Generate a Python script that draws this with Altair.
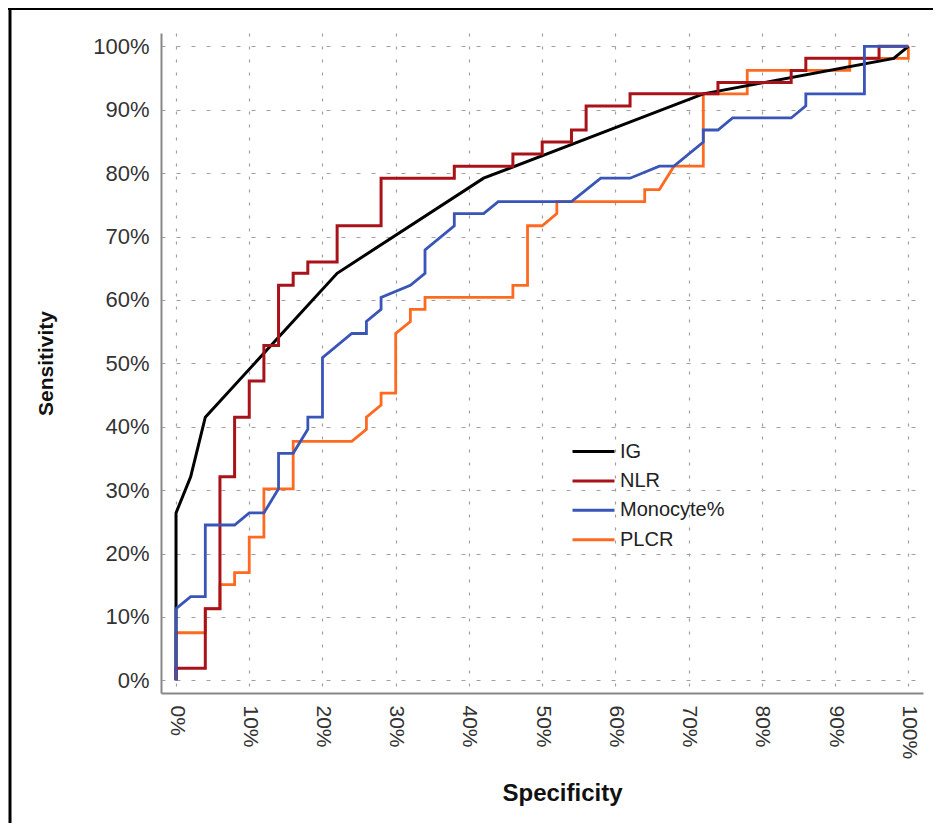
import altair as alt
import pandas as pd

# ROC curves (x = 1 - specificity in %, y = sensitivity in %)
SERIES = ["IG", "NLR", "Monocyte%", "PLCR"]
COLORS = ["#000000", "#a8131a", "#3955b8", "#ff6a21"]

IG_x = [0, 0, 2, 4, 22, 42, 72, 98, 100]
IG_y = [0, 26.4, 32.1, 41.5, 64.2, 79.2, 92.5, 98.1, 100]

NLR_x = [0, 0, 4, 4, 6, 6, 8, 8, 10, 10, 12, 12, 14, 14, 16, 16, 18, 18, 22, 22,
         28, 28, 38, 38, 46, 46, 50, 50, 54, 54, 56, 56, 62, 62, 74, 74, 84, 84, 86, 86,
         96, 96, 100]
NLR_y = [0, 1.9, 1.9, 11.3, 11.3, 32.1, 32.1, 41.5, 41.5, 47.2, 47.2, 52.8, 52.8, 62.3,
         62.3, 64.2, 64.2, 66.0, 66.0, 71.7, 71.7, 79.2, 79.2, 81.1, 81.1, 83.0, 83.0,
         84.9, 84.9, 86.8, 86.8, 90.6, 90.6, 92.5, 92.5, 94.3, 94.3, 96.2, 96.2, 98.1,
         98.1, 100, 100]

MONO_x = [0, 0, 2, 4, 4, 8, 10, 12, 14, 14, 16, 18, 18, 20, 20, 24, 26, 26, 28, 28,
          32, 34, 34, 38, 38, 42, 44, 54, 58, 62, 66, 68, 72, 72, 74, 76, 84, 86, 86, 94,
          94, 100]
MONO_y = [0, 11.3, 13.2, 13.2, 24.5, 24.5, 26.4, 26.4, 30.2, 35.8, 35.8, 39.6, 41.5,
          41.5, 50.9, 54.7, 54.7, 56.6, 58.5, 60.4, 62.3, 64.2, 67.9, 71.7, 73.6, 73.6,
          75.5, 75.5, 79.2, 79.2, 81.1, 81.1, 84.9, 86.8, 86.8, 88.7, 88.7, 90.6, 92.5,
          92.5, 100, 100]

PLCR_x = [0, 0, 4, 4, 6, 6, 8, 8, 10, 10, 12, 12, 16, 16, 24, 26, 26, 28, 28, 30,
          30, 32, 32, 34, 34, 46, 46, 48, 48, 50, 52, 52, 64, 64, 66, 68, 72, 72, 78, 78,
          92, 92, 100, 100]
PLCR_y = [0, 7.5, 7.5, 11.3, 11.3, 15.1, 15.1, 17.0, 17.0, 22.6, 22.6, 30.2, 30.2, 37.7,
          37.7, 39.6, 41.5, 43.4, 45.3, 45.3, 54.7, 56.6, 58.5, 58.5, 60.4, 60.4, 62.3,
          62.3, 71.7, 71.7, 73.6, 75.5, 75.5, 77.4, 77.4, 81.1, 81.1, 92.5, 92.5, 96.2,
          96.2, 98.1, 98.1, 100]

TICKS = [0, 10, 20, 30, 40, 50, 60, 70, 80, 90, 100]

rows = []
for name, xs, ys in [("IG", IG_x, IG_y), ("NLR", NLR_x, NLR_y),
                     ("Monocyte%", MONO_x, MONO_y), ("PLCR", PLCR_x, PLCR_y)]:
    for i, (a, b) in enumerate(zip(xs, ys)):
        rows.append({"series": name, "fpr": a, "tpr": b, "idx": i})
df = pd.DataFrame(rows)

FONT = "Liberation Sans"

x_enc = alt.X(
    "fpr:Q",
    scale=alt.Scale(domain=[-2.05, 102], nice=False, zero=False),
    axis=alt.Axis(
        values=TICKS, labelExpr="datum.value + '%'", labelAngle=90,
        labelFontSize=21, labelFont=FONT, labelColor="#333333", labelPadding=12,
        ticks=False, tickSize=0, domainColor="#888888", domainWidth=2,
        grid=True, gridColor="#a0a0a0", gridDash=[3, 10], gridWidth=1.2,
        title="Specificity", titleFont=FONT, titleFontSize=24, titleFontWeight="bold",
        titleColor="#111111", titleX=401, titleY=107, titleAlign="center",
        titleBaseline="alphabetic",
    ),
)
y_enc = alt.Y(
    "tpr:Q",
    scale=alt.Scale(domain=[-2.0, 102.1], nice=False, zero=False),
    axis=alt.Axis(
        values=TICKS, labelExpr="datum.value + '%'",
        labelFontSize=22, labelFont=FONT, labelColor="#333333", labelPadding=12,
        ticks=False, tickSize=0, domainColor="#888888", domainWidth=2,
        grid=True, gridColor="#a0a0a0", gridDash=[4, 11], gridWidth=1.2,
        title="Sensitivity", titleFont=FONT, titleFontSize=21, titleFontWeight="bold",
        titleColor="#111111", titleX=-115, titleY=330, titleAngle=270,
        titleAlign="center", titleBaseline="middle",
    ),
)
color_enc = alt.Color(
    "series:N",
    scale=alt.Scale(domain=SERIES, range=COLORS),
    legend=alt.Legend(
        title=None, orient="none", legendX=421, legendY=407, padding=0,
        symbolType="M-2.1,0H2.1", symbolSize=400, symbolStrokeWidth=3,
        labelFont=FONT, labelFontSize=20, labelColor="#222222", labelOffset=15,
        rowPadding=7.4,
    ),
)

base = alt.Chart(df)

def curve(name, width):
    return base.transform_filter(alt.datum.series == name).mark_line(
        strokeWidth=width, interpolate="linear"
    ).encode(x=x_enc, y=y_enc, color=color_enc, order=alt.Order("idx:Q"))

frame_df = pd.DataFrame({"k": [0]})
frame_v = alt.Chart(frame_df).mark_rule(color="black", strokeWidth=3).encode(
    x=alt.value(-151), y=alt.value(-30), y2=alt.value(800))
frame_h = alt.Chart(frame_df).mark_rule(color="black", strokeWidth=3).encode(
    x=alt.value(-153), x2=alt.value(790), y=alt.value(-24.5))

chart = alt.layer(
    curve("PLCR", 2.8),
    curve("IG", 3),
    curve("NLR", 3),
    curve("Monocyte%", 2.8),
    frame_v,
    frame_h,
).properties(
    width=762, height=660,
    autosize=alt.AutoSizeParams(type="none"),
    padding={"left": 153, "top": 25, "right": 10, "bottom": 130},
    background="white",
).configure_view(strokeWidth=0)

chart.save("out.html", embed_options={"renderer": "svg", "actions": False})
